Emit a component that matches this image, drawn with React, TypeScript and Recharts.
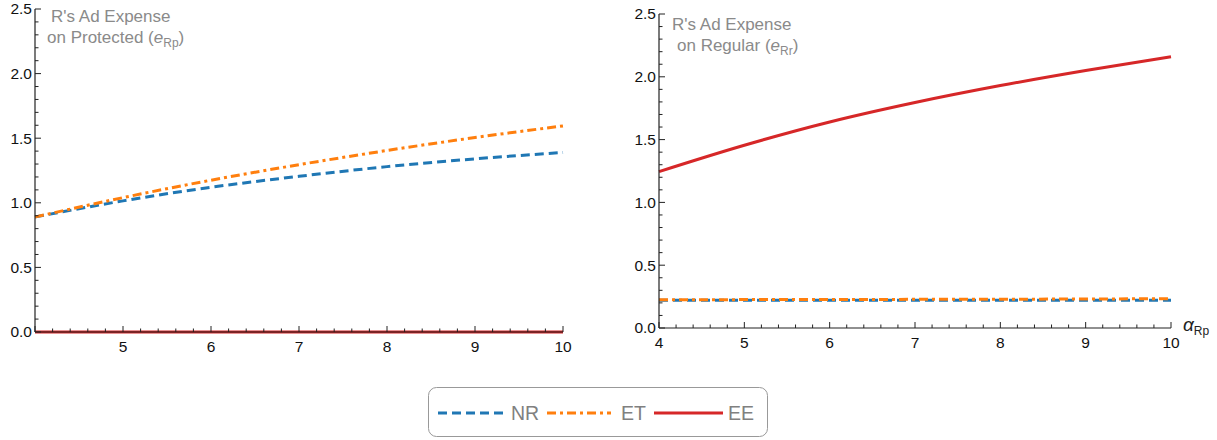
import React from "react";
import { LineChart, Line, XAxis, YAxis } from "recharts";

// α_Rp sample points shared by both panels
const alphaRp = [4, 5, 6, 7, 8, 9, 10];

// Panel 1: R's ad expense on the protected product
const protectedNR = [0.89, 1.015, 1.12, 1.205, 1.28, 1.34, 1.39];
const protectedET = [0.89, 1.04, 1.175, 1.295, 1.405, 1.505, 1.595];
const protectedEE = [0, 0, 0, 0, 0, 0, 0];

// Panel 2: R's ad expense on the regular product
const regularNR = [0.22, 0.22, 0.22, 0.22, 0.22, 0.22, 0.22];
const regularET = [0.225, 0.226, 0.227, 0.228, 0.229, 0.231, 0.233];
const regularEE = [1.245, 1.455, 1.64, 1.795, 1.93, 2.05, 2.16];

const yMajorTicks = [0, 0.5, 1, 1.5, 2, 2.5];
const xMajorTicks = [4, 5, 6, 7, 8, 9, 10];
const yTicks = Array.from({ length: 26 }, (_, i) => i / 10);
const xTicks = Array.from({ length: 31 }, (_, i) => 4 + i / 5);

const seriesStyle = [
  { key: "NR", name: "NR", color: "#1f77b4", dash: "9 5" },
  { key: "ET", name: "ET", color: "#ff7f0e", dash: "9 4 3 4" },
  { key: "EE", name: "EE", color: "#d62728", dash: undefined as string | undefined },
];

const buildRows = (nr: number[], et: number[], ee: number[]) =>
  alphaRp.map((a, i) => ({ a, NR: nr[i], ET: et[i], EE: ee[i] }));

const protectedRows = buildRows(protectedNR, protectedET, protectedEE);
const regularRows = buildRows(regularNR, regularET, regularEE);

const FONT = "'Liberation Sans', Arial, sans-serif";
const AXIS = "#222";
const TICK_FONT = 15.5;

const isMajor = (v: number, list: number[]) => list.some((m) => Math.abs(m - v) < 1e-6);

function makeYTick(axisX: number) {
  return (props: any) => {
    const { y, payload } = props;
    const v = payload.value as number;
    const major = isMajor(v, yMajorTicks);
    return (
      <g>
        <line x1={axisX} x2={axisX + (major ? 6 : 3.5)} y1={y} y2={y} stroke={AXIS} strokeWidth={1} />
        {major && (
          <text x={axisX - 3} y={y} dy="0.35em" textAnchor="end" fontSize={TICK_FONT} fontFamily={FONT} fill="#111">
            {v.toFixed(1)}
          </text>
        )}
      </g>
    );
  };
}

function makeXTick(axisY: number, labelY: number, skipFirst: boolean) {
  return (props: any) => {
    const { x, payload } = props;
    const v = payload.value as number;
    const major = isMajor(v, xMajorTicks);
    const showLabel = major && !(skipFirst && Math.abs(v - 4) < 1e-6);
    return (
      <g>
        <line x1={x} x2={x} y1={axisY} y2={axisY - (major ? 6 : 3.5)} stroke={AXIS} strokeWidth={1} />
        {showLabel && (
          <text x={x} y={labelY} dy="0.35em" textAnchor="middle" fontSize={TICK_FONT} fontFamily={FONT} fill="#111">
            {v}
          </text>
        )}
      </g>
    );
  };
}

interface PanelProps {
  rows: any[];
  width: number;
  height: number;
  left: number;
  top: number;
  yAxisWidth: number;
  xAxisHeight: number;
  rightMargin: number;
  skipFirstX: boolean;
  labelOffset: number;
}

function Panel(p: PanelProps) {
  const plotBottom = p.height - p.xAxisHeight;
  return (
    <div style={{ position: "absolute", left: p.left, top: 0 }}>
      <LineChart
        width={p.width}
        height={p.height}
        data={p.rows}
        margin={{ top: p.top, right: p.rightMargin, bottom: 0, left: 0 }}
      >
        <XAxis
          dataKey="a"
          type="number"
          domain={[4, 10]}
          ticks={xTicks}
          interval={0}
          height={p.xAxisHeight}
          tickLine={false}
          axisLine={{ stroke: AXIS, strokeWidth: 1.2 }}
          tick={makeXTick(plotBottom, plotBottom + p.labelOffset, p.skipFirstX)}
        />
        <YAxis
          type="number"
          domain={[0, 2.5]}
          ticks={yTicks}
          interval={0}
          width={p.yAxisWidth}
          tickLine={false}
          axisLine={{ stroke: AXIS, strokeWidth: 1.2 }}
          tick={makeYTick(p.yAxisWidth)}
        />
        {seriesStyle.map((s) => (
          <Line
            key={s.key}
            dataKey={s.key}
            name={s.name}
            type="monotone"
            stroke={s.color}
            strokeWidth={3}
            strokeDasharray={s.dash}
            dot={false}
            activeDot={false}
            isAnimationActive={false}
          />
        ))}
      </LineChart>
    </div>
  );
}

const titleStyle: React.CSSProperties = {
  position: "absolute",
  fontFamily: FONT,
  fontSize: 17,
  lineHeight: "21px",
  color: "#8a8a8a",
  whiteSpace: "nowrap",
};

const subStyle: React.CSSProperties = {
  fontSize: 12,
  position: "relative",
  top: 4,
};

function Legend() {
  const items = seriesStyle;
  const lineX = [438, 547, 654];
  const lineLen = [65, 64, 69];
  const textX = [511, 621, 728];
  return (
    <svg width={1217} height={440} style={{ position: "absolute", left: 0, top: 0, pointerEvents: "none" }}>
      <rect x={428.5} y={387.5} width={339} height={49} rx={8} ry={8} fill="#fff" stroke="#999" strokeWidth={1} />
      {items.map((s, i) => (
        <g key={s.key}>
          <line
            x1={lineX[i]}
            x2={lineX[i] + lineLen[i]}
            y1={413}
            y2={413}
            stroke={s.color}
            strokeWidth={3}
            strokeDasharray={s.dash}
          />
          <text x={textX[i]} y={413} dy="0.36em" fontSize={19.5} fontFamily={FONT} fill="#808080">
            {s.name}
          </text>
        </g>
      ))}
    </svg>
  );
}

export default function App() {
  return (
    <div style={{ position: "absolute", left: 0, top: 0, width: 1217, height: 440, background: "#fff", fontFamily: FONT }}>
      <Panel
        rows={protectedRows}
        width={600}
        height={360}
        left={0}
        top={9}
        yAxisWidth={35}
        xAxisHeight={28}
        rightMargin={37}
        skipFirstX={true}
        labelOffset={15}
      />
      <Panel
        rows={regularRows}
        width={617}
        height={360}
        left={600}
        top={14}
        yAxisWidth={59}
        xAxisHeight={32}
        rightMargin={46}
        skipFirstX={false}
        labelOffset={15}
      />

      <div style={{ ...titleStyle, left: 51, top: 6 }}>R's Ad Expense</div>
      <div style={{ ...titleStyle, left: 47, top: 27 }}>
        on Protected (<i>e</i>
        <span style={subStyle}>Rp</span>)
      </div>
      <div style={{ ...titleStyle, left: 672, top: 14 }}>R's Ad Expense</div>
      <div style={{ ...titleStyle, left: 677, top: 35 }}>
        on Regular (<i>e</i>
        <span style={subStyle}>Rr</span>)
      </div>

      <div style={{ position: "absolute", left: 1183, top: 314, fontFamily: FONT, fontSize: 19, color: "#222", whiteSpace: "nowrap" }}>
        <i>α</i>
        <span style={{ fontSize: 12, position: "relative", top: 4 }}>Rp</span>
      </div>

      <Legend />
    </div>
  );
}
